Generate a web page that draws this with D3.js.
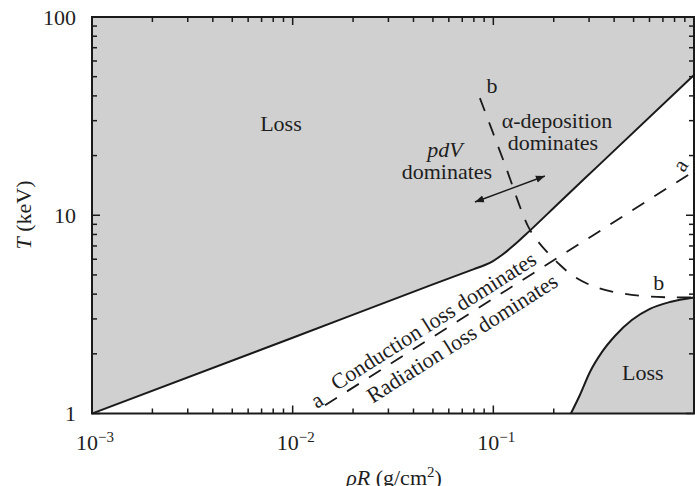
<!DOCTYPE html>
<html>
<head>
<meta charset="utf-8">
<script src="https://cdn.jsdelivr.net/npm/d3@7"></script>
<style>
  body { margin: 0; background: #fff; }
  svg { display: block; }
  text { font-family: "Liberation Serif", "Times New Roman", serif; fill: #1e1e1e; }
</style>
</head>
<body>
<svg id="chart" width="695" height="486"></svg>
<script>
// Axis domains and tick labels
const rhoRDomain = [1e-3, 1];
const tDomain = [1, 100];
const xMajorTicks = [1e-3, 1e-2, 1e-1, 1];
const xTickBase = ["10", "10", "10", "1"];
const xTickExp = ["\u22123", "\u22122", "\u22121", ""];
const yMajorTicks = [1, 10, 100];
const yTickLabels = ["1", "10", "100"];

// Ignition boundary: edge of the upper loss region
const boundaryRhoR = [0.001, 0.01, 0.05, 0.08, 0.0908, 0.0992, 0.1104, 0.1248, 0.1437, 0.2147, 0.3398, 1.0];
const boundaryT    = [1.0,   2.41, 4.48, 5.35, 5.61,   5.86,   6.30,   6.97,   7.93,   11.67,  18.11,  51.0];

// Edge of the lower-right loss region
const lowLossRhoR = [0.2435, 0.270, 0.303, 0.3475, 0.4035, 0.490, 0.603, 0.758, 1.0];
const lowLossT    = [1.0,    1.24,  1.62,  2.04,   2.46,   2.96,  3.37,  3.65,  3.85];

// Curve a: conduction loss = radiation loss
const curveARhoR = [0.0145, 0.965];
const curveAT    = [1.10,   16.3];

// Curve b: alpha deposition = pdV work
const curveBRhoR = [0.0857, 0.113, 0.1486, 0.1648, 0.185, 0.210, 0.2466, 0.296, 0.3597, 0.453, 0.603, 0.803, 1.0];
const curveBT    = [39.0,   18.56, 8.83,   7.50,   6.53,  5.74,  4.99,   4.50,  4.20,   4.01,  3.89,  3.85,  3.85];

// Region and curve labels, placed in data coordinates
const labelText  = ["Loss", "Loss", "dominates", "\u03b1-deposition", "dominates", "b", "b"];
const labelRhoR  = [0.00874, 0.556, 0.0587, 0.2074, 0.198, 0.0985, 0.668];
const labelT     = [26.6,    1.476, 15.24,  27.55,  21.34, 41.4,   4.20];

// Double arrow across curve b
const arrowRhoR = [0.0810, 0.1807];
const arrowT    = [11.67,  15.78];

const svg = d3.select("#chart");
const plotL = 92, plotR = 694, plotT = 17, plotB = 413.5;

const x = d3.scaleLog().domain(rhoRDomain).range([plotL, plotR]);
const y = d3.scaleLog().domain(tDomain).range([plotB, plotT]);

const ink = "#1a1a1a";
const gray = "#d0d0d0";

const zip = (xs, ys) => xs.map((v, i) => [v, ys[i]]);
const boundary = zip(boundaryRhoR, boundaryT);
const lowLoss = zip(lowLossRhoR, lowLossT);
const curveA = zip(curveARhoR, curveAT);
const curveB = zip(curveBRhoR, curveBT);

const line = d3.line().x(d => x(d[0])).y(d => y(d[1])).curve(d3.curveMonotoneX);

// minor tick values
function minors(domain) {
  const out = [];
  for (let d = domain[0]; d < domain[1] * 0.999; d *= 10)
    for (let m = 2; m <= 9; m++) out.push(m * d);
  return out;
}
const xMinor = minors(rhoRDomain);
const yMinor = minors(tDomain);

// upper loss region
svg.append("path")
  .attr("d", d3.area().x(d => x(d[0])).y0(y(tDomain[1])).y1(d => y(d[1])).curve(d3.curveMonotoneX)(boundary))
  .attr("fill", gray);

// bottom ticks
const tickG = svg.append("g").attr("stroke", ink).attr("stroke-width", 1.5);
xMajorTicks.forEach(v => tickG.append("line").attr("x1", x(v)).attr("x2", x(v)).attr("y1", plotB).attr("y2", plotB - 8));
xMinor.forEach(v => tickG.append("line").attr("x1", x(v)).attr("x2", x(v)).attr("y1", plotB).attr("y2", plotB - 5));

// lower loss region
svg.append("path")
  .attr("d", d3.area().x(d => x(d[0])).y0(y(tDomain[0])).y1(d => y(d[1])).curve(d3.curveMonotoneX)(lowLoss))
  .attr("fill", gray);

// top, left, right ticks
const tick2 = svg.append("g").attr("stroke", ink).attr("stroke-width", 1.5);
xMajorTicks.forEach(v => tick2.append("line").attr("x1", x(v)).attr("x2", x(v)).attr("y1", plotT).attr("y2", plotT + 8));
xMinor.forEach(v => tick2.append("line").attr("x1", x(v)).attr("x2", x(v)).attr("y1", plotT).attr("y2", plotT + 5));
yMajorTicks.forEach(v => {
  tick2.append("line").attr("x1", plotL).attr("x2", plotL + 8).attr("y1", y(v)).attr("y2", y(v));
  tick2.append("line").attr("x1", plotR).attr("x2", plotR - 8).attr("y1", y(v)).attr("y2", y(v));
});
yMinor.forEach(v => {
  tick2.append("line").attr("x1", plotL).attr("x2", plotL + 5).attr("y1", y(v)).attr("y2", y(v));
  tick2.append("line").attr("x1", plotR).attr("x2", plotR - 5).attr("y1", y(v)).attr("y2", y(v));
});

// frame
svg.append("rect")
  .attr("x", plotL).attr("y", plotT).attr("width", plotR - plotL).attr("height", plotB - plotT)
  .attr("fill", "none").attr("stroke", ink).attr("stroke-width", 2);

// solid boundaries
svg.append("path").attr("d", line(boundary)).attr("fill", "none").attr("stroke", ink).attr("stroke-width", 2);
svg.append("path").attr("d", line(lowLoss)).attr("fill", "none").attr("stroke", ink).attr("stroke-width", 2);

// dashed curves
svg.append("path").attr("d", line(curveA)).attr("fill", "none").attr("stroke", ink)
  .attr("stroke-width", 1.8).attr("stroke-dasharray", "14,12");
svg.append("path").attr("d", d3.line().x(d => x(d[0])).y(d => y(d[1])).curve(d3.curveCatmullRom)(curveB))
  .attr("fill", "none").attr("stroke", ink).attr("stroke-width", 1.8).attr("stroke-dasharray", "14,12");

// arrow
const defs = svg.append("defs");
defs.append("marker").attr("id", "head").attr("viewBox", "0 0 10 10")
  .attr("refX", 10).attr("refY", 5).attr("markerWidth", 9).attr("markerHeight", 9)
  .attr("markerUnits", "userSpaceOnUse").attr("orient", "auto-start-reverse")
  .append("path").attr("d", "M0,1 L10,5 L0,9 Z").attr("fill", ink);
svg.append("line")
  .attr("x1", x(arrowRhoR[0])).attr("y1", y(arrowT[0]))
  .attr("x2", x(arrowRhoR[1])).attr("y2", y(arrowT[1]))
  .attr("stroke", ink).attr("stroke-width", 1.5)
  .attr("marker-start", "url(#head)").attr("marker-end", "url(#head)");

// tick labels
const fs = 22;
xMajorTicks.forEach((v, i) => {
  const t = svg.append("text").attr("x", x(v) + (xTickExp[i] ? 3 : 5)).attr("y", 450)
    .attr("text-anchor", "middle").attr("font-size", fs).text(xTickBase[i]);
  if (xTickExp[i]) t.append("tspan").attr("dy", -8).attr("font-size", 15).text(xTickExp[i]);
});
yMajorTicks.forEach((v, i) => {
  svg.append("text").attr("x", 76).attr("y", y(v) + 7.5)
    .attr("text-anchor", "end").attr("font-size", fs).text(yTickLabels[i]);
});

// axis titles
const xt = svg.append("text").attr("x", 394).attr("y", 485).attr("text-anchor", "middle").attr("font-size", fs);
xt.append("tspan").attr("font-style", "italic").text("\u03c1R");
xt.append("tspan").text(" (g/cm");
xt.append("tspan").attr("dy", -8).attr("font-size", 15).text("2");
xt.append("tspan").attr("dy", 8).text(")");

const yt = svg.append("text").attr("transform", "translate(31,215) rotate(-90)")
  .attr("text-anchor", "middle").attr("font-size", fs);
yt.append("tspan").attr("font-style", "italic").text("T");
yt.append("tspan").text(" (keV)");

// region labels
labelText.forEach((s, i) => {
  svg.append("text").attr("x", x(labelRhoR[i])).attr("y", y(labelT[i]))
    .attr("text-anchor", "middle").attr("font-size", fs).text(s);
});
svg.append("text").attr("x", x(0.0574)).attr("y", y(19.67))
  .attr("text-anchor", "middle").attr("font-size", fs).attr("font-style", "italic").text("pdV");

// labels along curve a
const ang = Math.atan2(y(curveAT[1]) - y(curveAT[0]), x(curveARhoR[1]) - x(curveARhoR[0])) * 180 / Math.PI;
function rotLabel(r, t, s, a) {
  svg.append("text")
    .attr("transform", `translate(${x(r)},${y(t)}) rotate(${a})`)
    .attr("text-anchor", "middle").attr("dominant-baseline", "central")
    .attr("font-size", fs).text(s);
}
rotLabel(0.0502, 2.935, "Conduction loss dominates", ang);
rotLabel(0.0698, 2.40, "Radiation loss dominates", ang);
rotLabel(0.0132, 1.17, "a", ang);
rotLabel(0.851, 17.9, "a", ang - 25);
</script>
</body>
</html>
